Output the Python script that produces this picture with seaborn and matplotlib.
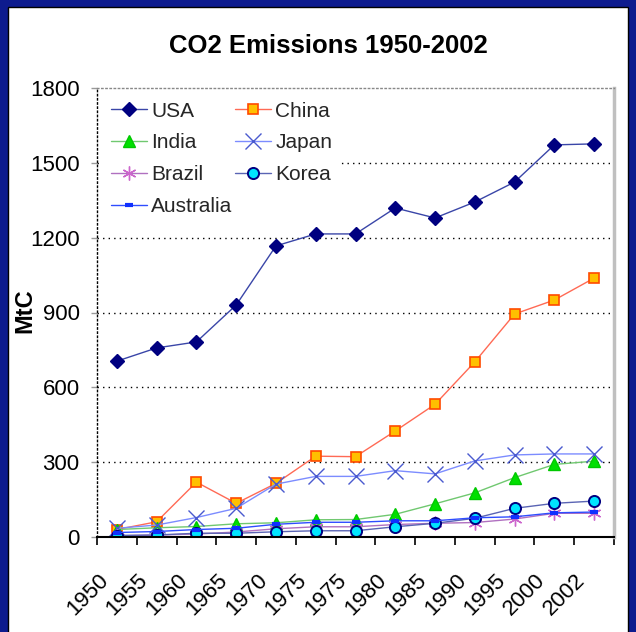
import matplotlib
matplotlib.use("Agg")
import matplotlib.pyplot as plt
import matplotlib.transforms as mtransforms
from matplotlib.patches import Rectangle
from matplotlib import font_manager
import seaborn as sns
import pandas as pd

# ---- data -------------------------------------------------------------
year_labels = ["1950", "1955", "1960", "1965", "1970", "1975", "1975",
               "1980", "1985", "1990", "1995", "2000", "2002"]
usa = [705, 758, 782, 930, 1167, 1215, 1215, 1319, 1279, 1343, 1423, 1572, 1576]
china = [30, 61, 220, 135, 215, 324, 322, 425, 532, 702, 894, 950, 1038]
india = [30, 37, 42, 53, 57, 69, 70, 91, 133, 177, 238, 291, 304]
japan = [35, 48, 78, 115, 212, 243, 243, 266, 253, 305, 329, 333, 333]
brazil = [5, 8, 12, 20, 33, 41, 41, 50, 55, 58, 72, 95, 95]
korea = [6, 8, 15, 15, 21, 25, 25, 41, 55, 75, 115, 135, 144]
australia = [18, 22, 30, 35, 51, 59, 59, 65, 65, 77, 81, 97, 100]
y_ticks = [0, 300, 600, 900, 1200, 1500, 1800]

series = {"USA": usa, "China": china, "India": india, "Japan": japan,
          "Brazil": brazil, "Korea": korea, "Australia": australia}

rows = []
for name, vals in series.items():
    for i, v in enumerate(vals):
        rows.append({"country": name, "pos": i, "mtc": v})
df = pd.DataFrame(rows)

# ---- styles -----------------------------------------------------------
styles = {
    "USA": dict(color="#3a46a8", marker="D", ms=7, mfc="#000080", mec="#000080", mew=1),
    "China": dict(color="#ff6a55", marker="s", ms=7, mfc="#ffc000", mec="#ff4a00", mew=1.2),
    "India": dict(color="#70c870", marker="^", ms=9, mfc="#00e000", mec="#00c800", mew=1),
    "Japan": dict(color="#7c8cff", marker="x", ms=11, mfc="#4a5acf", mec="#4a5acf", mew=1),
    "Brazil": dict(color="#b070c0", marker=(6, 2, 0), ms=10, mfc="#cc66cc", mec="#cc66cc", mew=1),
    "Korea": dict(color="#5a64b4", marker="o", ms=8, mfc="#00e5ff", mec="#000080", mew=1.4),
    "Australia": dict(color="#2f4dff", marker="_", ms=6, mfc="#1030ff", mec="#1030ff", mew=3),
}

sns.set_theme(style="white")

def pick_font(names):
    avail = {f.name for f in font_manager.fontManager.ttflist}
    for n in names:
        if n in avail:
            return n
    return "DejaVu Sans"

font = pick_font(["Liberation Sans", "DejaVu Sans"])
plt.rcParams["font.family"] = [font, "DejaVu Sans"]

fig = plt.figure(figsize=(6.36, 6.32), dpi=100)
W, H = 636, 632
fig.patch.set_facecolor("#0d1b8e")
fig.patches.append(Rectangle((8 / W, -0.01), 620 / W, 625 / H + 0.01, transform=fig.transFigure,
                             facecolor="white", edgecolor="black", linewidth=1, zorder=-5))

ax = fig.add_axes([97 / W, 1 - 537 / H, 517 / W, 449 / H])
ax.set_facecolor("none")
ax.set_zorder(2)

for name in series:
    st = styles[name]
    sub = df[df["country"] == name]
    sns.lineplot(data=sub, x="pos", y="mtc", ax=ax, label=name,
                 color=st["color"], linewidth=1.0, marker=st["marker"],
                 markersize=st["ms"], markerfacecolor=st["mfc"],
                 markeredgecolor=st["mec"], markeredgewidth=st["mew"])

ax.set_xlim(-0.5, 12.5)
ax.set_ylim(0, 1800)
ax.set_xlabel("")
ax.set_ylabel("")

# y axis
ax.set_yticks(y_ticks)
ax.set_yticklabels([str(t) for t in y_ticks], fontsize=16, color="black")
ax.tick_params(axis="y", direction="out", length=4.5, width=1, color="#999999", pad=8, left=True)
for t in y_ticks[1:-1]:
    ax.axhline(t, color="black", linewidth=1, linestyle=(0, (1, 3)), zorder=0.5)

# x axis: tick marks between categories, labels at category centres
ax.set_xticks([i - 0.5 for i in range(14)])
ax.set_xticklabels([])
ax.tick_params(axis="x", which="major", direction="out", length=6, width=1.2,
               color="black", bottom=True)
ax.set_xticks(range(len(year_labels)), minor=True)
ax.set_xticklabels(year_labels, minor=True, rotation=45, ha="right", va="center",
                   rotation_mode="anchor", fontsize=16, color="black")
ax.tick_params(axis="x", which="minor", length=0, pad=29)
shift = mtransforms.ScaledTranslation(-12 / 100, 0, fig.dpi_scale_trans)
for lab in ax.get_xticklabels(minor=True):
    lab.set_transform(lab.get_transform() + shift)

# spines
ax.spines["bottom"].set_color("black")
ax.spines["bottom"].set_linewidth(1.5)
ax.spines["left"].set_color("black")
ax.spines["left"].set_linewidth(1)
ax.spines["left"].set_linestyle((0, (1, 2)))
ax.spines["top"].set_color("#888888")
ax.spines["top"].set_linewidth(1)
ax.spines["top"].set_linestyle((0, (1, 2)))
ax.spines["right"].set_color("#c0c0c0")
ax.spines["right"].set_linewidth(2.5)

# legend, filled row by row
handles, labels = ax.get_legend_handles_labels()
hmap = dict(zip(labels, handles))
order = ["USA", "India", "Brazil", "Australia", "China", "Japan", "Korea"]
leg = ax.legend([hmap[k] for k in order], order, ncol=2, loc="upper left",
                bbox_to_anchor=(0.0, 1.0), frameon=True, facecolor="white",
                edgecolor="none", framealpha=1, fancybox=False,
                prop={"size": 15}, handlelength=1.75,
                handletextpad=0.2, columnspacing=0.1, labelspacing=0.62,
                borderpad=0.45, borderaxespad=0.2)
leg.set_zorder(5)

fig.text(328 / W, 1 - 46 / H, "CO2 Emissions 1950-2002", ha="center", va="center",
         fontweight="bold", fontsize=18.5, color="black")
fig.text(25 / W, 1 - 311 / H, "MtC", ha="center", va="center", rotation=90,
         fontweight="bold", fontsize=17, color="black")

fig.savefig("out.png", dpi=100)
